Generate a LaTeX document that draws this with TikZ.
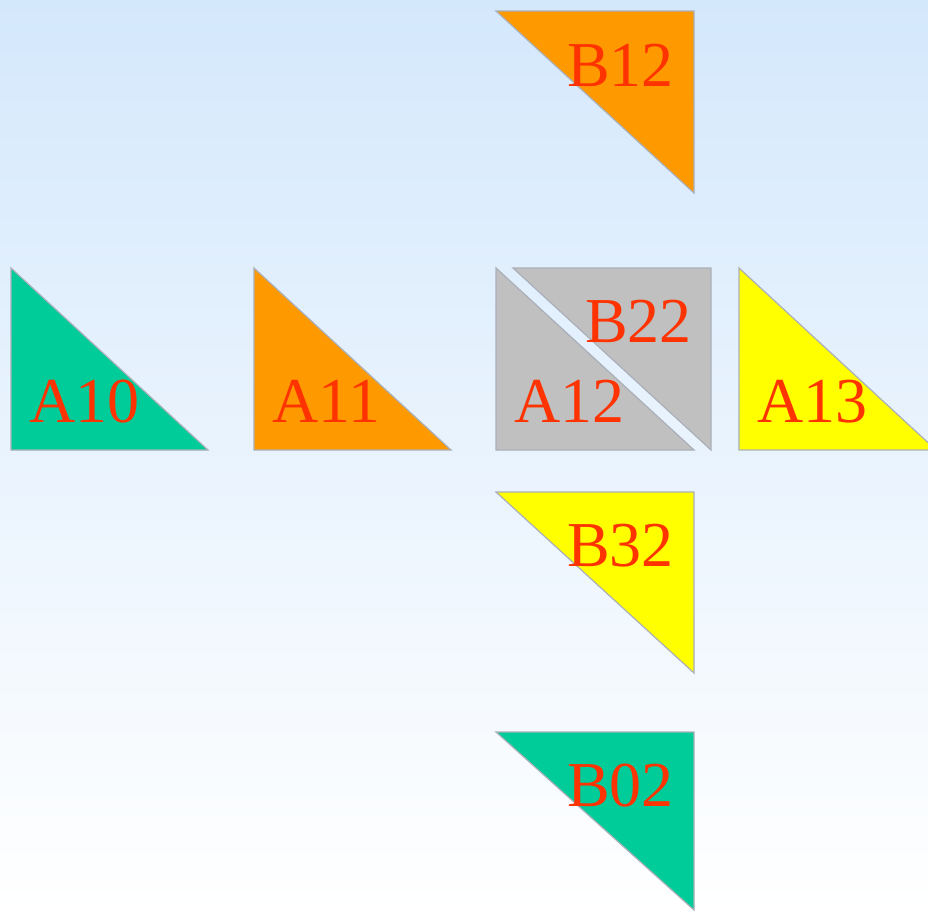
\documentclass[tikz,border=0pt]{standalone}
\usepackage{fontspec}
\setmainfont{Liberation Serif}
\definecolor{bgtop}{RGB}{212,232,252}
\definecolor{tgreen}{RGB}{0,204,153}
\definecolor{torange}{RGB}{255,153,0}
\definecolor{tgray}{RGB}{192,192,192}
\definecolor{tyellow}{RGB}{255,255,0}
\definecolor{tedge}{RGB}{170,175,185}
\definecolor{tlabel}{RGB}{255,51,0}
\tikzset{
  tri/.style={draw=tedge, line width=1.2pt, line join=miter},
  lbl/.style={anchor=base west, inner sep=0pt, text=tlabel, font=\fontsize{64}{64}\selectfont}
}
\begin{document}
\begin{tikzpicture}[x=1pt,y=-1pt]
\useasboundingbox (0,0) rectangle (928,911);
\clip (0,0) rectangle (928,911);
\shade[top color=bgtop, bottom color=white] (0,0) rectangle (928,911);
% lower-left triangles (A row)
\fill[tgreen] (11,268) -- (11,450) -- (208,450) -- cycle;
\draw[tri] (11,268) -- (11,450) -- (208,450) -- cycle;
\fill[torange] (254,268) -- (254,450) -- (451,450) -- cycle;
\draw[tri] (254,268) -- (254,450) -- (451,450) -- cycle;
\fill[tgray] (496,268) -- (496,450) -- (694,450) -- cycle;
\draw[tri] (496,268) -- (496,450) -- (694,450) -- cycle;
\fill[tyellow] (739,268) -- (739,450) -- (936,450) -- cycle;
\draw[tri] (739,268) -- (739,450) -- (936,450) -- cycle;
% upper-right triangles (B column)
\fill[torange] (496,11) -- (694,11) -- (694,193) -- cycle;
\draw[tri] (496,11) -- (694,11) -- (694,193) -- cycle;
\fill[tgray] (513,268) -- (711,268) -- (711,450) -- cycle;
\draw[tri] (513,268) -- (711,268) -- (711,450) -- cycle;
\fill[tyellow] (496,492) -- (694,492) -- (694,673) -- cycle;
\draw[tri] (496,492) -- (694,492) -- (694,673) -- cycle;
\fill[tgreen] (496,732) -- (694,732) -- (694,910) -- cycle;
\draw[tri] (496,732) -- (694,732) -- (694,910) -- cycle;
% labels
\node[lbl] (a10) at (29,422) {A10};
\node[lbl] (a11) at (272,422) {A11};
\node[lbl] (a12) at (514,422) {A12};
\node[lbl] (a13) at (757,422) {A13};
\node[lbl] (b12) at (567,86) {B12};
\node[lbl] (b22) at (585,342) {B22};
\node[lbl] (b32) at (567,566) {B32};
\node[lbl] (b02) at (567,806) {B02};
\end{tikzpicture}
\end{document}
